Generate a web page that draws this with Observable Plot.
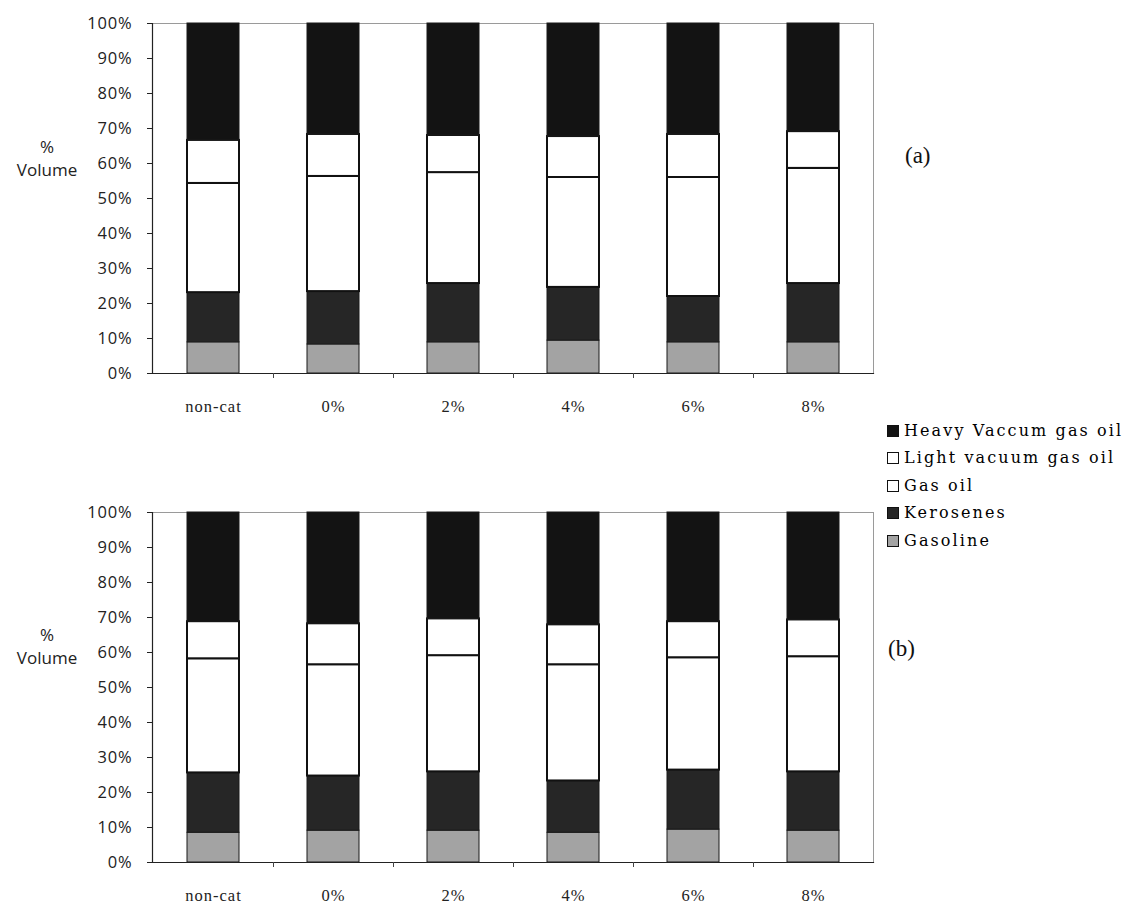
<!DOCTYPE html>
<html>
<head>
<meta charset="utf-8">
<script src="https://cdn.jsdelivr.net/npm/d3@7"></script>
<script src="https://cdn.jsdelivr.net/npm/@observablehq/plot@0.6"></script>
<style>
  body { margin: 0; background: #fff; }
  #wrap { position: relative; width: 1134px; height: 907px; overflow: hidden; background: #fff; }
  .abs { position: absolute; }
  .plot { position: absolute; left: 0; }
  .ylab { font-family: "Open Sans", sans-serif; font-size: 17px; color: #222; text-align: center; width: 94px; line-height: 23px; }
  .panel { font-family: "Liberation Serif", serif; font-size: 23px; color: #111; }
  .leg { font-family: "DejaVu Serif", serif; font-size: 16px; letter-spacing: 2.1px; color: #000; white-space: nowrap; }
  .sw { display: inline-block; width: 12px; height: 12px; border: 1.3px solid #111; vertical-align: -1px; margin-right: 5px; box-sizing: border-box; }
  svg g[aria-label="x-axis tick label"] text { font-family: "Liberation Serif", serif; font-size: 16.5px; letter-spacing: 1px; }
  svg g[aria-label="y-axis tick label"] text { font-size: 16.5px; letter-spacing: 0.8px; }
</style>
</head>
<body>
<div id="wrap"></div>
<script>
const categories = ["non-cat", "0%", "2%", "4%", "6%", "8%"];
const fractions = ["Gasoline", "Kerosenes", "Gas oil", "Light vacuum gas oil", "Heavy Vaccum gas oil"];
const legendLabels = ["Heavy Vaccum gas oil", "Light vacuum gas oil", "Gas oil", "Kerosenes", "Gasoline"];
const yTicks = [0, 10, 20, 30, 40, 50, 60, 70, 80, 90, 100];

// panel (a) values, % volume, bottom to top
const aGasoline = [8.9, 8.3, 8.9, 9.4, 8.9, 8.9];
const aKerosenes = [14.2, 15.1, 16.8, 15.2, 13.1, 16.8];
const aGasOil = [31.2, 32.9, 31.7, 31.4, 34.0, 32.9];
const aLVGO = [12.3, 12.0, 10.6, 11.7, 12.3, 10.5];
const aHVGO = [33.4, 31.7, 32.0, 32.3, 31.7, 30.9];

// panel (b) values
const bGasoline = [8.5, 9.1, 9.1, 8.5, 9.4, 9.1];
const bKerosenes = [17.1, 15.6, 16.8, 14.8, 17.0, 16.8];
const bGasOil = [32.6, 31.8, 33.2, 33.2, 32.1, 32.9];
const bLVGO = [10.6, 11.7, 10.5, 11.4, 10.3, 10.5];
const bHVGO = [31.2, 31.8, 30.4, 32.1, 31.2, 30.7];

const fills = {
  "Gasoline": "#a3a3a3",
  "Kerosenes": "#262626",
  "Gas oil": "#ffffff",
  "Light vacuum gas oil": "#ffffff",
  "Heavy Vaccum gas oil": "#131313"
};

function tidy(series) {
  const rows = [];
  categories.forEach((c, i) => {
    fractions.forEach((f, j) => rows.push({cat: c, fraction: f, order: j, value: series[j][i]}));
  });
  return rows;
}

function makePlot(rows, height) {
  return Plot.plot({
    width: 900,
    height: height,
    marginTop: 23,
    marginBottom: height - 23 - 350,
    marginLeft: 152,
    marginRight: 27,
    style: {fontFamily: "Open Sans, sans-serif", fontSize: "16.5px", background: "white", color: "#222"},
    x: {domain: categories, paddingInner: 0.57, paddingOuter: 0.285, label: null},
    y: {domain: [0, 100], label: null},
    color: {domain: fractions, range: fractions.map(f => fills[f])},
    marks: [
      Plot.frame({stroke: "#9a9a9a", strokeWidth: 1}),
      Plot.barY(rows, {
        x: "cat", y: "value", fill: "fraction", order: fractions,
        stroke: d => (d.fraction === "Gas oil" || d.fraction === "Light vacuum gas oil") ? "#111" : "#1a1a1a",
        strokeWidth: d => (d.fraction === "Gas oil" || d.fraction === "Light vacuum gas oil") ? 2 : 1
      }),
      Plot.frame({anchor: "left", stroke: "#222", strokeWidth: 1.2}),
      Plot.frame({anchor: "bottom", stroke: "#222", strokeWidth: 1.2}),
      Plot.ruleX(categories.slice(0, -1), {x: d => d, dx: 60, y1: 0, y2: 0, insetBottom: -5, stroke: "#444"}),
      Plot.axisY({ticks: yTicks, tickFormat: d => d + "%", tickSize: 5, tickPadding: 15, fontSize: 16.5}),
      Plot.axisX({tickSize: 0, tickPadding: 27, fontSize: 16.5, fontFamily: "Liberation Serif, serif"})
    ]
  });
}

const wrap = document.getElementById("wrap");

const pa = makePlot(tidy([aGasoline, aKerosenes, aGasOil, aLVGO, aHVGO]), 420);
pa.classList.add("plot");
pa.style.top = "0px";
wrap.appendChild(pa);

const pb = makePlot(tidy([bGasoline, bKerosenes, bGasOil, bLVGO, bHVGO]), 418);
pb.classList.add("plot");
pb.style.top = "489px";
wrap.appendChild(pb);

function addDiv(cls, html, left, top) {
  const d = document.createElement("div");
  d.className = "abs " + cls;
  d.innerHTML = html;
  d.style.left = left + "px";
  d.style.top = top + "px";
  wrap.appendChild(d);
  return d;
}

addDiv("ylab", "%<br>Volume", 0, 135);
addDiv("ylab", "%<br>Volume", 0, 623);
addDiv("panel", "(a)", 905, 143);
addDiv("panel", "(b)", 888, 636);

const legendTop = 421;
legendLabels.forEach((lab, i) => {
  const fill = fills[lab];
  addDiv("leg", `<span class="sw" style="background:${fill}"></span>${lab}`, 887, legendTop + i * 27.4);
});
</script>
</body>
</html>
